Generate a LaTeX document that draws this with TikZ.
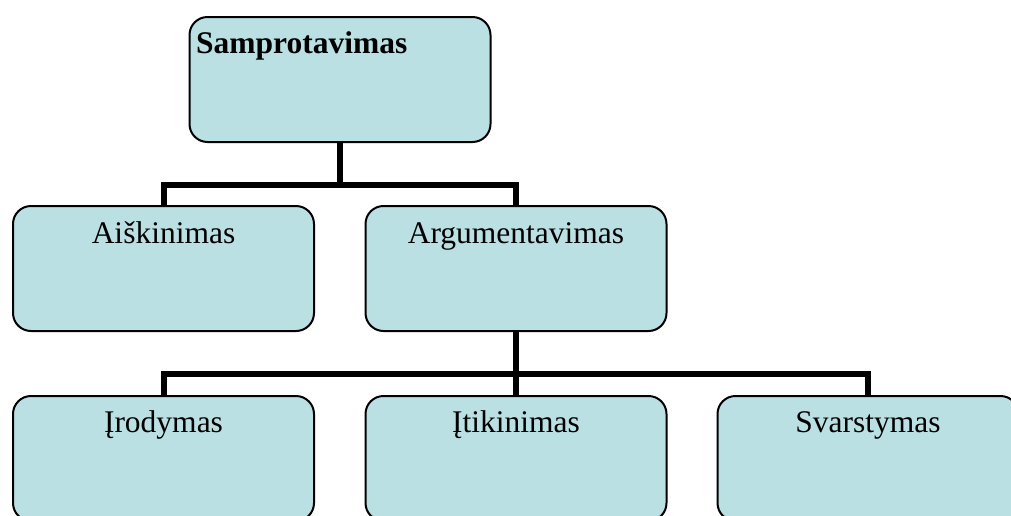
\documentclass[tikz,border=0pt]{standalone}
\usepackage{fontspec}
\setmainfont{Liberation Serif}
\usetikzlibrary{backgrounds}
\definecolor{boxfill}{HTML}{BBE0E3}
\tikzset{
  orgbox/.style={draw=black, line width=2pt, fill=boxfill, rounded corners=18pt,
    minimum width=301pt, minimum height=125pt, inner sep=0pt},
  boxtext/.style={font=\fontsize{31.5}{38}\selectfont, inner sep=0pt, anchor=base},
  conn/.style={line width=6pt, draw=black, line join=miter, line cap=butt}
}
\begin{document}
\begin{tikzpicture}[x=1pt,y=-1pt]
\useasboundingbox (0,0) rectangle (1011,515);
\clip (0,0) rectangle (1011,515);
% boxes
\node[orgbox] (top) at (340,79.5) {};
\node[orgbox] (aisk) at (163.5,268.5) {};
\node[orgbox] (arg) at (516,268.5) {};
\node[orgbox] (irod) at (163.5,458.5) {};
\node[orgbox] (itik) at (516,458.5) {};
\node[orgbox] (svar) at (868,458.5) {};
% texts
\node[boxtext, anchor=base west] (ttop) at (196,53) {\textbf{Samprotavimas}};
\node[boxtext] (taisk) at (163.5,243) {Aiškinimas};
\node[boxtext] (targ) at (516,243) {Argumentavimas};
\node[boxtext] (tirod) at (163.5,432) {Įrodymas};
\node[boxtext] (titik) at (516,432) {Įtikinimas};
\node[boxtext] (tsvar) at (868,432) {Svarstymas};
% connectors behind the boxes
\begin{scope}[on background layer]
\coordinate (j1) at (340,185);
\coordinate (j2) at (516,374);
\draw[conn] (top.south) -- (j1);
\draw[conn] (aisk.north) |- (j1) -| (arg.north);
\draw[conn] (arg.south) -- (j2);
\draw[conn] (irod.north) |- (j2) -| (svar.north);
\draw[conn] (j2) -- (itik.north);
\end{scope}
\end{tikzpicture}
\end{document}
